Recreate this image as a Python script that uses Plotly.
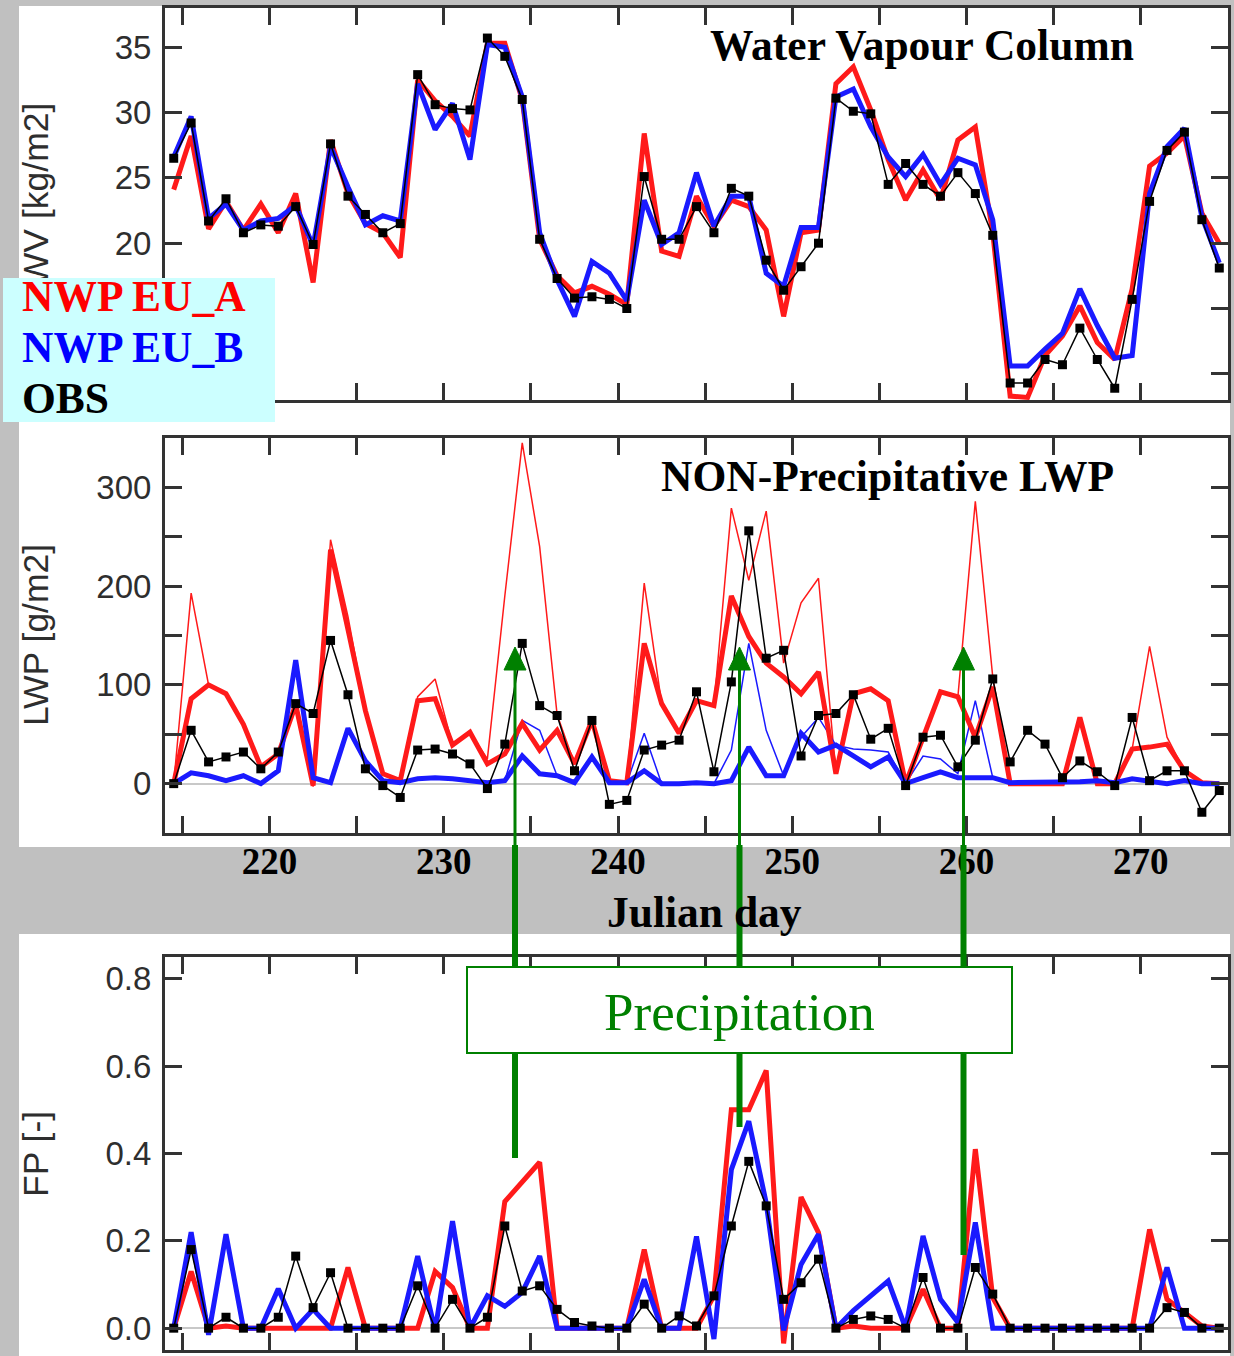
import plotly.graph_objects as go

W, H = 1234, 1356

# ---------------- data ----------------
days = [214.5, 215.5, 216.5, 217.5, 218.5, 219.5, 220.5, 221.5, 222.5, 223.5,
        224.5, 225.5, 226.5, 227.5, 228.5, 229.5, 230.5, 231.5, 232.5, 233.5,
        234.5, 235.5, 236.5, 237.5, 238.5, 239.5, 240.5, 241.5, 242.5, 243.5,
        244.5, 245.5, 246.5, 247.5, 248.5, 249.5, 250.5, 251.5, 252.5, 253.5,
        254.5, 255.5, 256.5, 257.5, 258.5, 259.5, 260.5, 261.5, 262.5, 263.5,
        264.5, 265.5, 266.5, 267.5, 268.5, 269.5, 270.5, 271.5, 272.5, 273.5,
        274.5]

wv_obs = [26.5, 29.2, 21.7, 23.4, 20.8, 21.4, 21.3, 22.8, 19.9, 27.6,
          23.6, 22.2, 20.8, 21.5, 32.9, 30.6, 30.3, 30.2, 35.7, 34.3,
          31.0, 20.3, 17.3, 15.8, 15.9, 15.7, 15.0, 25.1, 20.3, 20.3,
          22.8, 20.8, 24.2, 23.6, 18.7, 16.4, 18.2, 20.0, 31.1, 30.1,
          29.9, 24.5, 26.1, 24.5, 23.6, 25.4, 23.8, 20.6, 9.3, 9.3,
          11.1, 10.7, 13.5, 11.1, 8.9, 15.7, 23.2, 27.1, 28.5, 21.8,
          18.1]
wv_a = [24.1, 28.2, 21.1, 23.2, 21.0, 23.0, 20.8, 23.8, 17.0, 27.9,
        23.8, 21.5, 20.8, 18.9, 32.5, 30.9, 29.7, 28.2, 35.3, 35.3,
        31.0, 20.3, 17.5, 16.2, 16.7, 16.1, 15.3, 28.4, 19.4, 19.0,
        23.6, 21.3, 23.3, 22.8, 21.0, 14.4, 20.8, 21.0, 32.2, 33.5,
        30.2, 26.4, 23.3, 25.6, 23.3, 27.9, 28.9, 20.8, 8.3, 8.2,
        11.4, 12.9, 15.2, 12.4, 11.1, 16.5, 25.9, 26.9, 28.2, 22.3,
        20.0]
wv_b = [26.6, 29.7, 21.9, 23.0, 21.0, 21.7, 21.9, 22.9, 19.8, 27.4,
        24.3, 21.4, 22.1, 21.7, 32.2, 28.7, 30.7, 26.4, 35.2, 35.0,
        31.2, 20.8, 17.2, 14.4, 18.6, 17.7, 15.6, 23.3, 19.9, 20.8,
        25.4, 21.3, 23.6, 23.6, 17.7, 16.7, 21.2, 21.2, 31.2, 31.8,
        28.9, 26.6, 25.1, 26.8, 24.5, 26.5, 26.0, 21.8, 10.6, 10.6,
        11.9, 13.1, 16.5, 13.7, 11.2, 11.4, 23.8, 27.4, 28.8, 22.0,
        18.5]

lwp_obs = [0, 54, 22, 27, 32, 15, 32, 81, 71, 145,
           90, 15, -2, -14, 34, 35, 30, 20, -5, 40,
           142, 79, 69, 13, 64, -21, -17, 34, 39, 44,
           93, 12, 103, 256, 127, 135, 28, 69, 71, 90,
           45, 56, -2, 47, 49, 17, 44, 106, 22, 54,
           40, 6, 23, 12, -2, 67, 3, 13, 13, -29,
           -7]
lwp_a = [0, 86, 100, 91, 60, 17, 30, 80, -2, 237,
         156, 74, 10, 3, 84, 86, 39, 52, 20, 30,
         61, 34, 54, 20, 64, 3, 1, 142, 81, 51,
         84, 79, 190, 149, 122, 108, 91, 113, 10, 91,
         96, 84, 0, 47, 93, 88, 47, 98, 0, 0,
         0, 0, 67, 0, 0, 35, 37, 40, 13, 1,
         0]
lwp_a_all = [0, 193, 100, 91, 60, 17, 30, 80, -3, 247,
             169, 74, 10, 3, 88, 106, 39, 52, 25, 190,
             345, 240, 70, 20, 64, 3, 1, 203, 81, 51,
             84, 79, 279, 206, 276, 122, 183, 208, 10, 91,
             96, 84, 0, 47, 93, 88, 286, 108, 0, 0,
             0, 0, 67, 0, 0, 35, 139, 47, 13, 1,
             0]
lwp_b = [0, 11, 8, 3, 8, 0, 13, 125, 6, 1,
         56, 23, 3, 1, 5, 6, 5, 3, 1, 3,
         28, 10, 8, 1, 27, 1, 1, 13, 0, 0,
         1, 0, 3, 37, 8, 8, 51, 32, 39, 28,
         17, 27, 0, 6, 12, 6, 6, 6, 1, 1,
         1, 1, 2, 3, 1, 5, 3, 0, 3, 0,
         0]
lwp_b_all = [0, 11, 8, 3, 8, 0, 13, 125, 6, 1,
             56, 23, 3, 1, 5, 6, 5, 3, 1, 3,
             64, 54, 8, 1, 27, 1, 1, 51, 0, 0,
             1, 0, 34, 142, 54, 8, 47, 67, 39, 35,
             34, 32, 0, 28, 25, 10, 84, 6, 1, 1,
             1, 1, 2, 3, 1, 5, 3, 0, 3, 0,
             0]

fp_obs = [0, 0.18, 0, 0.025, 0, 0, 0.025, 0.165, 0.047, 0.127,
          0, 0, 0, 0, 0.097, 0, 0.066, 0, 0.025, 0.234,
          0.085, 0.097, 0.043, 0.013, 0.005, 0, 0, 0.055, 0, 0.028,
          0.005, 0.074, 0.234, 0.382, 0.28, 0.066, 0.104, 0.158, 0, 0.02,
          0.028, 0.02, 0, 0.116, 0, 0, 0.139, 0.078, 0, 0,
          0, 0, 0, 0, 0, 0, 0, 0.047, 0.036, 0,
          0]
fp_a = [0, 0.13, 0, 0.005, 0, 0, 0, 0, 0, 0,
        0.139, 0, 0, 0, 0, 0.13, 0.093, 0, 0, 0.29,
        0.335, 0.38, 0, 0, 0, 0, 0, 0.18, 0, 0,
        0, 0.074, 0.5, 0.5, 0.59, -0.035, 0.3, 0.219, 0, 0.005,
        0, 0, 0, 0.089, 0, 0, 0.41, 0.07, 0, 0,
        0, 0, 0, 0, 0, 0, 0.226, 0.066, 0.036, 0.005,
        0]
fp_b = [0, 0.22, -0.015, 0.215, 0, 0, 0.09, 0, 0.043, 0,
        0, 0, 0, 0, 0.165, -0.005, 0.245, 0, 0.074, 0.05,
        0.082, 0.165, 0, 0, 0, 0, 0, 0.112, 0, 0,
        0.21, -0.025, 0.363, 0.474, 0.287, -0.005, 0.146, 0.215, 0, 0.04,
        0.074, 0.108, 0, 0.211, 0.066, 0.013, 0.242, 0, 0, 0,
        0, 0, 0, 0, 0, 0, 0, 0.139, 0, 0,
        0]

x_ticks = [215, 220, 225, 230, 235, 240, 245, 250, 255, 260, 265, 270, 275]
x_ticktext = ["", "220", "", "230", "", "240", "", "250", "", "260", "", "270", ""]
wv_ticks = [10, 15, 20, 25, 30, 35]
wv_ticktext = ["", "", "20", "25", "30", "35"]
lwp_ticks = [0, 50, 100, 150, 200, 250, 300]
lwp_ticktext = ["0", "", "100", "", "200", "", "300"]
fp_ticks = [0, 0.2, 0.4, 0.6, 0.8]
fp_ticktext = ["0.0", "0.2", "0.4", "0.6", "0.8"]

RED = "#ff1a1a"
BLUE = "#1a1aff"
GREEN = "#008000"
FRAME = "#333333"


def px(x):
    return x / W


def py(y):
    return 1 - y / H


fig = go.Figure()


def line(x, y, ax, color, width, name, markers=False):
    tr = dict(x=x, y=y, xaxis="x" + ax, yaxis="y" + ax, name=name,
              line=dict(color=color, width=width), showlegend=False,
              hoverinfo="skip")
    if markers:
        tr["mode"] = "lines+markers"
        tr["marker"] = dict(symbol="square", size=9, color="black")
    else:
        tr["mode"] = "lines"
    fig.add_trace(go.Scatter(**tr))


# top panel
line(days, wv_a, "", RED, 5, "NWP EU_A")
line(days, wv_b, "", BLUE, 5, "NWP EU_B")
line(days, wv_obs, "", "black", 1.5, "OBS", markers=True)
# middle panel
line(days, lwp_a_all, "2", RED, 1.5, "NWP EU_A total")
line(days, lwp_b_all, "2", BLUE, 1.5, "NWP EU_B total")
line(days, lwp_a, "2", RED, 5, "NWP EU_A")
line(days, lwp_b, "2", BLUE, 5, "NWP EU_B")
line(days, lwp_obs, "2", "black", 1.5, "OBS", markers=True)
# bottom panel
line(days, fp_a, "3", RED, 5, "NWP EU_A")
line(days, fp_b, "3", BLUE, 5, "NWP EU_B")
line(days, fp_obs, "3", "black", 1.5, "OBS", markers=True)

xdom = [px(165), px(1228)]
common_x = dict(range=[214, 275], tickvals=x_ticks, ticks="inside", ticklen=17,
                tickwidth=2.5, tickcolor=FRAME, mirror="ticks", showline=True,
                linecolor=FRAME, linewidth=3, showgrid=False, zeroline=False,
                domain=xdom)
common_y = dict(ticks="inside", ticklen=17, tickwidth=2.5, tickcolor=FRAME,
                mirror="ticks", showline=True, linecolor=FRAME, linewidth=3,
                showgrid=False,
                tickfont=dict(family="Liberation Sans", size=33, color="#2e2e2e"),
                ticklabelstandoff=4)

fig.update_layout(
    width=W, height=H, autosize=False,
    margin=dict(l=0, r=0, t=0, b=0),
    paper_bgcolor="#c0c0c0", plot_bgcolor="white",
    xaxis=dict(anchor="y", showticklabels=False, **common_x),
    xaxis2=dict(anchor="y2", showticklabels=True, ticktext=x_ticktext,
                tickfont=dict(family="Liberation Serif", size=37, color="black",
                              weight="bold"),
                ticklabelstandoff=-6, **common_x),
    xaxis3=dict(anchor="y3", showticklabels=False, **common_x),
    yaxis=dict(anchor="x", domain=[py(400), py(8)], range=[8, 38],
               tickvals=wv_ticks, ticktext=wv_ticktext, zeroline=False,
               **common_y),
    yaxis2=dict(anchor="x2", domain=[py(833), py(438)], range=[-50, 350],
                tickvals=lwp_ticks, ticktext=lwp_ticktext, zeroline=True,
                zerolinecolor="#c8c8c8", zerolinewidth=1.5, **common_y),
    yaxis3=dict(anchor="x3", domain=[py(1350), py(957)], range=[-0.05, 0.85],
                tickvals=fp_ticks, ticktext=fp_ticktext, zeroline=True,
                zerolinecolor="#c8c8c8", zerolinewidth=1.5, **common_y),
)

shapes = []
# white "image" backgrounds
for (x0, y0, x1, y1) in [(19, 6, 1230, 847), (19, 934, 1230, 1356)]:
    shapes.append(dict(type="rect", xref="paper", yref="paper", layer="below",
                       x0=px(x0), x1=px(x1), y0=py(y1), y1=py(y0),
                       fillcolor="white", line=dict(width=0)))

# green precipitation arrows
arrows = [(515, 1158), (739.5, 1127), (963.5, 1255)]
for ax_, yend in arrows:
    shapes.append(dict(type="line", xref="paper", yref="paper", layer="above",
                       x0=px(ax_), x1=px(ax_), y0=py(668), y1=py(845),
                       line=dict(color=GREEN, width=3)))
    shapes.append(dict(type="line", xref="paper", yref="paper", layer="above",
                       x0=px(ax_), x1=px(ax_), y0=py(845), y1=py(yend),
                       line=dict(color=GREEN, width=6)))
    path = "M {} {} L {} {} L {} {} Z".format(
        px(ax_), py(647), px(ax_ - 11), py(670), px(ax_ + 11), py(670))
    shapes.append(dict(type="path", xref="paper", yref="paper", layer="above",
                       path=path, fillcolor=GREEN, line=dict(color=GREEN, width=1)))
# Precipitation box
shapes.append(dict(type="rect", xref="paper", yref="paper", layer="above",
                   x0=px(467), x1=px(1012), y0=py(1053), y1=py(967),
                   fillcolor="white", line=dict(color=GREEN, width=2)))
fig.update_layout(shapes=shapes)

ann = []
SERIF = "Liberation Serif"
SANS = "Liberation Sans"
BIG = 43.5
# y-axis labels (drawn first so the legend box covers them)
for text, yc in [("IWV [kg/m2]", 200), ("LWP [g/m2]", 635), ("FP [-]", 1154)]:
    ann.append(dict(text=text, xref="paper", yref="paper", x=px(36), y=py(yc),
                    xanchor="center", yanchor="middle", textangle=-90,
                    showarrow=False,
                    font=dict(family=SANS, size=35.5, color="#2e2e2e")))
# legend box
ann.append(dict(text=" ", xref="paper", yref="paper", x=px(3), y=py(278),
                xanchor="left", yanchor="top", width=272, height=144,
                bgcolor="#ccffff", borderpad=0, borderwidth=0, showarrow=False,
                font=dict(size=10)))
for text, col, yc in [("NWP EU_A", "#ff0000", 296), ("NWP EU_B", "#0000ff", 347),
                      ("OBS", "black", 398)]:
    ann.append(dict(text="<b>" + text + "</b>", xref="paper", yref="paper",
                    x=px(20), y=py(yc), xanchor="left", yanchor="middle",
                    showarrow=False, font=dict(family=SERIF, size=BIG, color=col)))
# panel titles
ann.append(dict(text="<b>Water Vapour Column</b>", xref="paper", yref="paper",
                x=px(922), y=py(45), xanchor="center", yanchor="middle",
                showarrow=False, font=dict(family=SERIF, size=BIG, color="black")))
ann.append(dict(text="<b>NON-Precipitative LWP</b>", xref="paper", yref="paper",
                x=px(887), y=py(476), xanchor="center", yanchor="middle",
                showarrow=False, font=dict(family=SERIF, size=BIG, color="black")))
ann.append(dict(text="<b>Julian day</b>", xref="paper", yref="paper",
                x=px(704), y=py(912), xanchor="center", yanchor="middle",
                showarrow=False, font=dict(family=SERIF, size=BIG, color="black")))
ann.append(dict(text="Precipitation", xref="paper", yref="paper",
                x=px(739), y=py(1012), xanchor="center", yanchor="middle",
                showarrow=False, font=dict(family=SERIF, size=53, color=GREEN)))
fig.update_layout(annotations=ann)

fig.write_html("out.html")
